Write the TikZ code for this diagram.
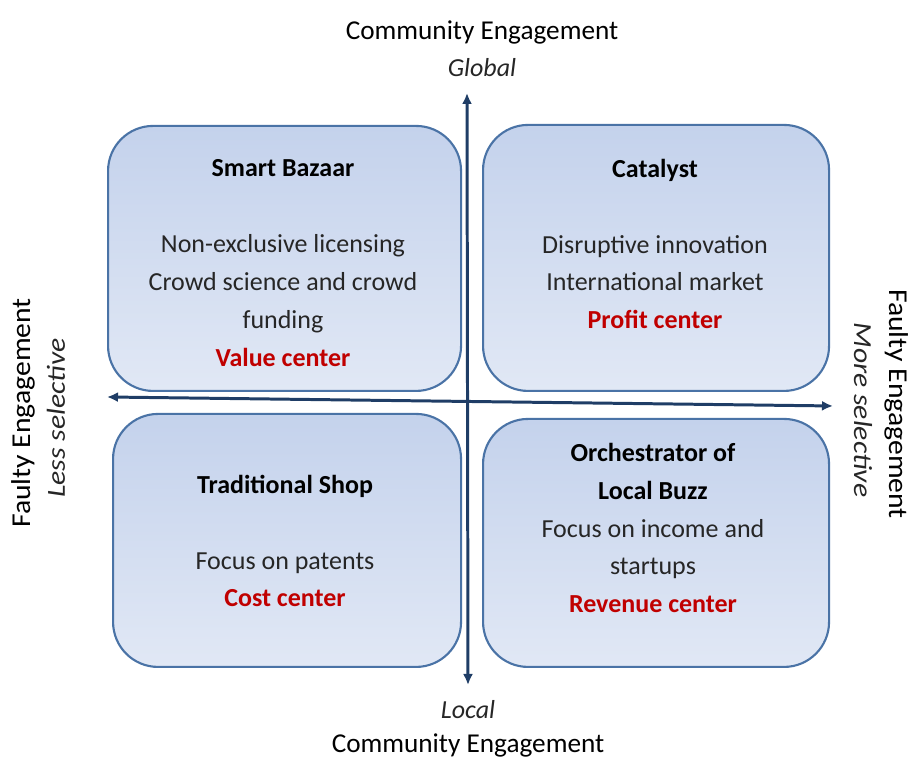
\documentclass[tikz,border=0pt]{standalone}
\usepackage{fontspec}
\setmainfont{Carlito}
\usetikzlibrary{positioning,arrows.meta,calc}
\definecolor{boxtop}{HTML}{C4D2EC}
\definecolor{boxbottom}{HTML}{E1E8F5}
\definecolor{boxline}{HTML}{4A73A6}
\definecolor{axisblue}{HTML}{1F3D66}
\definecolor{darkred}{HTML}{C00000}
\definecolor{bodygray}{HTML}{262626}
\tikzset{
  quad/.style={draw=boxline, line width=0.6pt, rounded corners=4.5mm,
    top color=boxtop, bottom color=boxbottom, anchor=south west, inner sep=0pt},
  quadtext/.style={align=center, text=bodygray, font=\fontsize{7.4}{10.8}\selectfont},
  axislabel/.style={font=\fontsize{7.75}{9}\selectfont, text=black},
  axishint/.style={font=\fontsize{7.4}{9}\selectfont\itshape, text=bodygray},
  axisline/.style={draw=axisblue, line width=0.85pt,
    {Latex[length=1.1mm,width=1mm]}-{Latex[length=1.1mm,width=1mm]}}
}
\newcommand{\quadhead}[1]{\textcolor{black}{\textbf{#1}}}
\newcommand{\quadcenter}[1]{\textcolor{darkred}{\textbf{#1}}}
\begin{document}
\begin{tikzpicture}
      \useasboundingbox (0,0) rectangle (9.09,7.63);

      % quadrants
      \node[quad, minimum width=3.53cm, minimum height=2.65cm] (bazaar) at (1.07,3.71) {};
      \node[quad, minimum width=3.46cm, minimum height=2.66cm] (catalyst) at (4.82,3.71) {};
      \node[quad, minimum width=3.48cm, minimum height=2.53cm] (shop) at (1.12,0.95) {};
      \node[quad, minimum width=3.46cm, minimum height=2.48cm] (buzz) at (4.82,0.95) {};

      \node[quadtext] (bazaartext) at (2.83,5.0) {\quadhead{Smart Bazaar}\\[10.8pt]
        Non-exclusive licensing\\ Crowd science and crowd\\ funding\\ \quadcenter{Value center}};
      \node[quadtext] (catalysttext) at (6.55,5.19) {\quadhead{Catalyst}\\[10.8pt]
        Disruptive innovation\\ International market\\ \quadcenter{Profit center}};
      \node[quadtext] (shoptext) at (2.85,2.22) {\quadhead{Traditional Shop}\\[10.8pt]
        Focus on patents\\ \quadcenter{Cost center}};
      \node[quadtext] (buzztext) at (6.53,2.35) {\quadhead{Orchestrator of}\\ \quadhead{Local Buzz}\\
        Focus on income and\\ startups\\ \quadcenter{Revenue center}};

      % axes
      \coordinate (globaltip) at (4.67,6.70);
      \coordinate (localtip) at (4.68,0.78);
      \coordinate (lesstip) at (1.07,3.66);
      \coordinate (moretip) at (8.33,3.57);
      \draw[axisline] (localtip) -- (globaltip);
      \draw[axisline] (lesstip) -- (moretip);

      \node[axislabel] (commtop) at (4.82,7.31) {Community Engagement};
      \node[axishint] (global) at (4.82,6.95) {Global};
      \node[axishint] (local) at (4.68,0.53) {Local};
      \node[axislabel] (commbottom) at (4.68,0.18) {Community Engagement};

      \node[axislabel, rotate=90] (facleft) at (0.23,3.50) {\scalebox{1.09}[1]{Faulty Engagement}};
      \node[axishint, rotate=90] (less) at (0.56,3.45) {\scalebox{1.14}[1]{Less selective}};
      \node[axislabel, rotate=-90] (facright) at (8.97,3.59) {\scalebox{1.09}[1]{Faulty Engagement}};
      \node[axishint, rotate=-90] (more) at (8.63,3.53) {\scalebox{1.14}[1]{More selective}};
\end{tikzpicture}
\end{document}
